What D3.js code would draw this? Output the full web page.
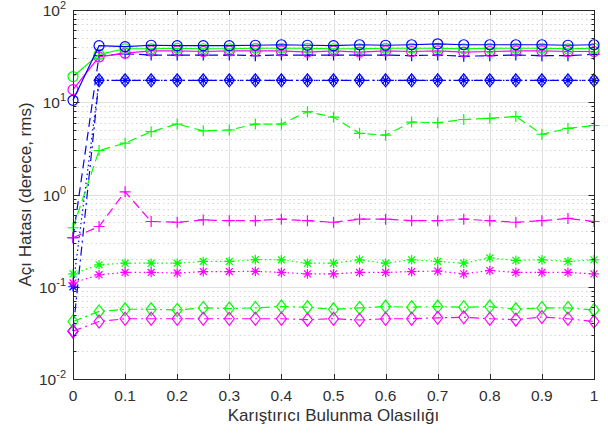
<!DOCTYPE html>
<html>
<head>
<meta charset="utf-8">
<script src="https://cdn.jsdelivr.net/npm/d3@7"></script>
<style>
  body { margin: 0; background: #fff; }
  text { font-family: "Liberation Sans", Arial, sans-serif; fill: #303030; }
</style>
</head>
<body>
<div class="canvas"></div>
<script>
// x values (Karıştırıcı Bulunma Olasılığı)
const probs = [0, 0.05, 0.1, 0.15, 0.2, 0.25, 0.3, 0.35, 0.4, 0.45, 0.5,
               0.55, 0.6, 0.65, 0.7, 0.75, 0.8, 0.85, 0.9, 0.95, 1];

// circle markers, solid line
const blueCircle    = [10.5, 41, 40, 41.5, 41, 41, 41, 41.5, 42, 41.5, 41, 42, 41.5, 42, 43, 42, 42, 42, 42, 41.5, 42];
const greenCircle   = [19, 33, 38, 38, 38.5, 38, 38, 38.5, 38.5, 38.5, 38, 38, 38.5, 38.5, 38.5, 38, 38.5, 38.5, 38.5, 38, 38.5];
const magentaCircle = [13.7, 31, 34, 36, 36, 35.5, 36, 36, 36, 35, 36, 35, 36, 35.5, 36, 35, 35.5, 36, 36, 35.5, 35.5];
// plus markers, dashed line
const bluePlus    = [0.34, 32, 33.5, 32.5, 32.5, 32.5, 32.5, 32, 32.5, 32.5, 32.5, 32.5, 32.5, 32, 32.5, 31.5, 32, 32.5, 32, 32, 33];
const greenPlus   = [0.436, 3.0, 3.6, 4.8, 5.8, 4.9, 5.0, 5.8, 5.8, 7.9, 6.9, 4.6, 4.4, 6.1, 6.0, 6.5, 6.7, 7.0, 4.5, 5.2, 5.6];
const magentaPlus = [0.34, 0.45, 1.07, 0.51, 0.50, 0.53, 0.52, 0.52, 0.54, 0.52, 0.50, 0.54, 0.54, 0.52, 0.52, 0.54, 0.52, 0.50, 0.52, 0.55, 0.51];
// star markers, dotted line
const blueStar    = [0.1, 17.3, 17.3, 17.3, 17.3, 17.3, 17.3, 17.3, 17.3, 17.3, 17.3, 17.3, 17.3, 17.3, 17.3, 17.3, 17.3, 17.3, 17.3, 17.3, 17.3];
const greenStar   = [0.138, 0.173, 0.18, 0.18, 0.18, 0.188, 0.188, 0.197, 0.196, 0.18, 0.18, 0.196, 0.18, 0.196, 0.188, 0.18, 0.205, 0.193, 0.196, 0.188, 0.196];
const magentaStar = [0.11, 0.135, 0.143, 0.143, 0.141, 0.146, 0.146, 0.147, 0.143, 0.138, 0.138, 0.143, 0.143, 0.146, 0.148, 0.138, 0.15, 0.143, 0.143, 0.143, 0.138];
// diamond markers, dash-dot line
const blueDiamond    = [0.033, 17.3, 17.3, 17.3, 17.3, 17.3, 17.3, 17.3, 17.3, 17.3, 17.3, 17.3, 17.3, 17.3, 17.3, 17.3, 17.3, 17.3, 17.3, 17.3, 17.3];
const greenDiamond   = [0.042, 0.054, 0.057, 0.057, 0.056, 0.059, 0.058, 0.059, 0.061, 0.06, 0.057, 0.059, 0.061, 0.06, 0.061, 0.06, 0.061, 0.057, 0.059, 0.059, 0.056];
const magentaDiamond = [0.033, 0.042, 0.045, 0.045, 0.045, 0.045, 0.045, 0.045, 0.045, 0.044, 0.045, 0.0436, 0.045, 0.045, 0.046, 0.0466, 0.045, 0.044, 0.047, 0.045, 0.042];

const xTicks = [0, 0.1, 0.2, 0.3, 0.4, 0.5, 0.6, 0.7, 0.8, 0.9, 1];
const xTickLabels = ["0", "0.1", "0.2", "0.3", "0.4", "0.5", "0.6", "0.7", "0.8", "0.9", "1"];
const yExponents = [-2, -1, 0, 1, 2];

const xTitle = "Karıştırıcı Bulunma Olasılığı";
const yTitle = "Açı Hatası (derece, rms)";

const width = 608, height = 438;
const marginLeft = 73, marginRight = 14, marginTop = 10, marginBottom = 59;

const blue = "#0000ff", green = "#00ff00", magenta = "#ff00ff";
const dashStyles = { solid: null, dashed: "9,5", dotted: "1.5,3", dashdot: "9,4,2,4" };

const series = [
  { values: blueStar, color: blue, marker: "star", dash: "dotted" },
  { values: blueDiamond, color: blue, marker: "diamond", dash: "dashdot" },
  { values: bluePlus, color: blue, marker: "plus", dash: "dashed" },
  { values: greenDiamond, color: green, marker: "diamond", dash: "dashdot" },
  { values: magentaDiamond, color: magenta, marker: "diamond", dash: "dashdot" },
  { values: greenStar, color: green, marker: "star", dash: "dotted" },
  { values: magentaStar, color: magenta, marker: "star", dash: "dotted" },
  { values: greenPlus, color: green, marker: "plus", dash: "dashed" },
  { values: magentaPlus, color: magenta, marker: "plus", dash: "dashed" },
  { values: magentaCircle, color: magenta, marker: "circle", dash: "solid" },
  { values: greenCircle, color: green, marker: "circle", dash: "solid" },
  { values: blueCircle, color: blue, marker: "circle", dash: "solid" }
];

const x = d3.scaleLinear().domain([0, 1]).range([marginLeft, width - marginRight]);
const y = d3.scaleLog().domain([0.01, 100]).range([height - marginBottom, marginTop]);

const svg = d3.select(".canvas").append("svg")
  .attr("width", width)
  .attr("height", height);

const x0 = x.range()[0], x1 = x.range()[1];
const yb = y.range()[0], yt = y.range()[1];

// minor grid (dotted)
const minorVals = [];
for (let e = -2; e < 2; e++) {
  for (let m = 2; m <= 9; m++) minorVals.push(m * Math.pow(10, e));
}
svg.append("g").selectAll("line").data(minorVals).join("line")
  .attr("x1", x0).attr("x2", x1)
  .attr("y1", d => Math.round(y(d)) + 0.5).attr("y2", d => Math.round(y(d)) + 0.5)
  .attr("stroke", "#d6d6d6").attr("stroke-width", 1).attr("stroke-dasharray", "1.5,3");

// major grid
svg.append("g").selectAll("line").data(xTicks.slice(1, -1)).join("line")
  .attr("x1", d => Math.round(x(d)) + 0.5).attr("x2", d => Math.round(x(d)) + 0.5)
  .attr("y1", yt).attr("y2", yb)
  .attr("stroke", "#e0e0e0").attr("stroke-width", 1);
svg.append("g").selectAll("line").data(yExponents.slice(1, -1)).join("line")
  .attr("x1", x0).attr("x2", x1)
  .attr("y1", d => Math.round(y(Math.pow(10, d))) + 0.5).attr("y2", d => Math.round(y(Math.pow(10, d))) + 0.5)
  .attr("stroke", "#e0e0e0").attr("stroke-width", 1);

// series
const line = d3.line().x((d, i) => x(probs[i])).y(d => y(d));

function markerPath(type) {
  const p = d3.path();
  if (type === "plus") {
    p.moveTo(-5.5, 0); p.lineTo(5.5, 0); p.moveTo(0, -5.5); p.lineTo(0, 5.5);
  } else if (type === "star") {
    const r = 4.8, a = r * 0.72;
    p.moveTo(-r, 0); p.lineTo(r, 0); p.moveTo(0, -r); p.lineTo(0, r);
    p.moveTo(-a, -a); p.lineTo(a, a); p.moveTo(-a, a); p.lineTo(a, -a);
  } else if (type === "diamond") {
    p.moveTo(0, -6.5); p.lineTo(5, 0); p.lineTo(0, 6.5); p.lineTo(-5, 0); p.closePath();
  } else {
    p.arc(0, 0, 5, 0, 2 * Math.PI);
  }
  return p.toString();
}

series.forEach(s => {
  const g = svg.append("g");
  g.append("path")
    .attr("d", line(s.values))
    .attr("fill", "none")
    .attr("stroke", s.color)
    .attr("stroke-width", 1.2)
    .attr("stroke-dasharray", dashStyles[s.dash]);
  g.selectAll("path.m").data(s.values).join("path")
    .attr("class", "m")
    .attr("transform", (d, i) => `translate(${x(probs[i])},${y(d)})`)
    .attr("d", markerPath(s.marker))
    .attr("fill", "none")
    .attr("stroke", s.color)
    .attr("stroke-width", 1.2);
});

// box
const axisColor = "#262626";
svg.append("rect")
  .attr("x", x0 + 0.5).attr("y", yt + 0.5)
  .attr("width", x1 - x0).attr("height", yb - yt)
  .attr("fill", "none").attr("stroke", axisColor).attr("stroke-width", 1);

// x ticks (inward, top and bottom)
const xt = svg.append("g");
xt.selectAll("line.b").data(xTicks).join("line").attr("class", "b")
  .attr("x1", d => Math.round(x(d)) + 0.5).attr("x2", d => Math.round(x(d)) + 0.5)
  .attr("y1", yb).attr("y2", yb - 5).attr("stroke", axisColor);
xt.selectAll("line.t").data(xTicks).join("line").attr("class", "t")
  .attr("x1", d => Math.round(x(d)) + 0.5).attr("x2", d => Math.round(x(d)) + 0.5)
  .attr("y1", yt).attr("y2", yt + 5).attr("stroke", axisColor);
xt.selectAll("text").data(xTicks).join("text")
  .attr("x", d => x(d)).attr("y", yb + 22)
  .attr("text-anchor", "middle")
  .style("font-size", "15.5px")
  .text((d, i) => xTickLabels[i]);

// y ticks (major + minor, both sides)
const yt_ = svg.append("g");
const majorVals = yExponents.map(e => Math.pow(10, e));
[[x0, 1], [x1, -1]].forEach(([xs, dir]) => {
  yt_.append("g").selectAll("line").data(majorVals).join("line")
    .attr("x1", xs + 0.5).attr("x2", xs + 0.5 + dir * 6)
    .attr("y1", d => Math.round(y(d)) + 0.5).attr("y2", d => Math.round(y(d)) + 0.5)
    .attr("stroke", axisColor);
  yt_.append("g").selectAll("line").data(minorVals).join("line")
    .attr("x1", xs + 0.5).attr("x2", xs + 0.5 + dir * 3)
    .attr("y1", d => Math.round(y(d)) + 0.5).attr("y2", d => Math.round(y(d)) + 0.5)
    .attr("stroke", axisColor);
});
const yl = yt_.selectAll("text").data(yExponents).join("text")
  .attr("x", x0 - 7).attr("y", d => y(Math.pow(10, d)) + 6)
  .attr("text-anchor", "end")
  .style("font-size", "15.5px");
yl.append("tspan").text("10");
yl.append("tspan").attr("dy", -7).style("font-size", "11px").text(d => d);

// axis titles
svg.append("text")
  .attr("x", (x0 + x1) / 2).attr("y", height - 17)
  .attr("text-anchor", "middle")
  .style("font-size", "17px")
  .text(xTitle);

svg.append("text")
  .attr("transform", `translate(31,${(yt + yb) / 2}) rotate(-90)`)
  .attr("text-anchor", "middle")
  .style("font-size", "17px")
  .text(yTitle);
</script>
</body>
</html>
